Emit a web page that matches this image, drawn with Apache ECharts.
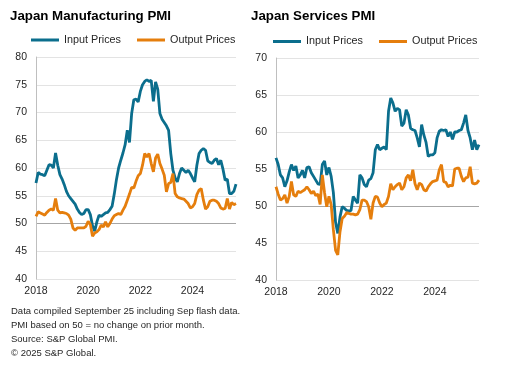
<!DOCTYPE html>
<html>
<head>
<meta charset="utf-8">
<script src="https://cdn.jsdelivr.net/npm/echarts@6/dist/echarts.min.js"></script>
<style>
html,body{margin:0;padding:0;background:#fff;}
#chart{width:519px;height:367px;}
</style>
</head>
<body>
<div id="chart"></div>
<script>
// Monthly data Jan 2018 - Sep 2025
const startYear = 2018, nMonths = 93;
const months = [];
for (let i = 0; i < nMonths; i++) {
  const y = startYear + Math.floor(i / 12), m = (i % 12) + 1;
  months.push(y + '-' + (m < 10 ? '0' + m : m));
}
const seriesNames = ['Input Prices', 'Output Prices'];
const titles = ['Japan Manufacturing PMI', 'Japan Services PMI'];

const mfgInput = [
  57.3, 59.2, 58.9, 58.8, 58.6, 59.6, 60.6, 60.5, 60.0, 62.7,
  60.5, 58.8, 58.0, 57.0, 55.8, 55.0, 54.5, 54.0, 53.5, 52.6,
  52.0, 51.6, 51.8, 52.5, 52.5, 51.6, 49.6, 48.6, 50.3, 51.5,
  51.3, 51.6, 51.9, 52.0, 52.5, 53.1, 55.3, 57.9, 60.0, 61.4,
  62.7, 64.2, 66.8, 64.6, 69.8, 72.3, 72.4, 71.9, 73.8, 75.0,
  75.6, 75.9, 75.6, 75.8, 72.0, 75.5, 74.2, 69.8, 68.8, 68.2,
  67.6, 66.8, 62.6, 59.6, 58.2, 57.5, 59.0, 60.0, 59.6, 59.2,
  59.6, 59.0, 58.2, 57.5, 60.5, 62.6, 63.2, 63.5, 63.2, 61.3,
  61.0, 60.8, 61.4, 61.7, 60.6, 61.4, 59.8, 57.8, 58.0, 55.4,
  55.4, 55.8, 57.1
];
const mfgOutput = [
  51.3, 52.1, 51.9, 51.7, 51.5, 52.0, 52.4, 52.6, 52.4, 54.5,
  52.4, 51.9, 52.0, 51.9, 51.8, 51.5, 50.8, 49.2, 48.8, 49.2,
  49.2, 49.2, 49.2, 49.5, 50.4, 49.8, 47.7, 48.3, 48.5, 48.9,
  49.7, 49.4, 50.3, 49.4, 50.0, 50.8, 51.4, 51.6, 51.8, 51.6,
  52.4, 53.1, 54.2, 55.3, 56.5, 56.4, 57.6, 58.6, 59.0, 60.5,
  62.6, 62.0, 62.6, 60.8, 59.3, 61.8, 62.5, 60.8, 59.8, 58.7,
  55.7, 57.2, 57.4, 59.0, 55.4, 54.8, 54.6, 54.5, 54.4, 54.0,
  53.6, 52.8, 53.0, 53.6, 55.2, 56.0, 56.3, 54.2, 52.6, 53.0,
  54.0, 54.2, 54.2, 54.0, 53.6, 52.8, 52.6, 52.7, 54.5, 52.6,
  53.8, 53.4, 53.6
];
const svcInput = [
  56.5, 55.6, 54.2, 53.8, 52.6, 53.4, 54.6, 55.6, 54.8, 55.4,
  53.8, 54.2, 54.8, 53.8, 55.2, 55.3, 54.5, 54.0, 53.5, 53.0,
  52.9, 55.6, 56.1, 54.2, 55.2, 54.0, 51.8, 47.8, 46.3, 48.5,
  49.9, 49.7, 49.4, 49.3, 49.4, 51.3, 50.8, 50.4, 54.2, 53.8,
  52.9, 52.6, 53.5, 53.7, 54.5, 57.6, 58.3, 57.6, 57.8, 58.0,
  57.6, 62.8, 64.6, 63.9, 62.8, 63.2, 63.0, 60.8, 61.2, 63.0,
  62.3, 60.5, 60.3, 60.2, 59.2, 58.0, 61.0, 59.6, 58.6, 56.7,
  56.9, 56.9, 57.2, 59.2, 60.1, 60.3, 60.2, 60.3, 59.4, 60.0,
  59.0, 60.0, 60.0, 60.2, 60.3, 61.2, 62.3, 60.2, 59.2, 57.6,
  58.9, 57.6, 58.3
];
const svcOutput = [
  52.6, 51.6, 50.8, 51.0, 51.5, 50.4, 51.3, 53.3, 51.5, 51.3,
  52.0, 51.8, 52.0, 52.2, 52.6, 52.2, 51.7, 52.0, 51.4, 51.6,
  50.2, 54.2, 51.8, 49.9, 51.3, 50.2, 46.8, 44.0, 43.4, 46.5,
  48.3, 48.6, 49.1, 49.0, 48.9, 48.9, 48.8, 48.9, 49.5, 50.8,
  50.8, 50.6, 49.9, 48.2, 50.4, 51.3, 51.2, 50.4, 49.9, 50.2,
  50.4, 51.3, 53.0, 52.2, 52.6, 52.9, 53.1, 52.2, 52.6, 53.8,
  54.2, 53.4, 54.9, 53.0, 52.2, 53.1, 52.9, 52.2, 52.0, 52.6,
  53.0, 53.3, 53.4, 53.5, 54.9, 55.6, 53.3, 53.2, 52.6, 52.8,
  52.7, 55.0, 55.1, 55.1, 54.0, 53.3, 53.8, 53.9, 55.3, 53.1,
  53.0, 53.1, 53.5
];
const footnotes = [
  'Data compiled September 25 including Sep flash data.',
  'PMI based on 50 = no change on prior month.',
  'Source: S&P Global PMI.',
  '\u00A9 2025 S&P Global.'
];

const BLUE = '#0b6e8d', ORANGE = '#e57e0d';
const FONT = 'Liberation Sans, Arial, sans-serif';
const GRID = '#e3e3e3', BASE = '#a6a6a6';

function yearLabel(idx, val) {
  return val.slice(5) === '01' && (+val.slice(0, 4)) % 2 === 0;
}
function splitColors(min, max, step) {
  const c = [];
  for (let v = min; v <= max; v += step) c.push(v === 50 ? BASE : GRID);
  return c;
}
function xAxis(gi) {
  return {
    type: 'category', gridIndex: gi, data: months, boundaryGap: false,
    axisLine: { show: false }, axisTick: { show: false }, splitLine: { show: false },
    axisLabel: { interval: yearLabel, formatter: v => v.slice(0, 4), color: '#262626',
      fontFamily: FONT, fontSize: 10.5, margin: 7 }
  };
}
function yAxis(gi, max) {
  return {
    type: 'value', gridIndex: gi, min: 40, max: max, interval: 5,
    axisLine: { show: true, lineStyle: { color: '#bfbfbf', width: 1 } },
    axisTick: { show: false },
    splitLine: { show: true, lineStyle: { color: splitColors(40, max, 5), width: 1 } },
    axisLabel: { color: '#262626', fontFamily: FONT, fontSize: 10.5, margin: 9 }
  };
}
function line(name, data, color, gi) {
  return {
    name: name, type: 'line', xAxisIndex: gi, yAxisIndex: gi, data: data,
    symbol: 'none', lineStyle: { color: color, width: 2.8 }, itemStyle: { color: color },
    animation: false
  };
}
function legend(left, top) {
  return {
    left: left, top: top, padding: 0, itemWidth: 28, itemHeight: 3, itemGap: 16,
    data: seriesNames, icon: 'rect',
    textStyle: { color: '#262626', fontFamily: FONT, fontSize: 10.8 },
    selectedMode: false
  };
}

const chart = echarts.init(document.getElementById('chart'));
chart.setOption({
  backgroundColor: '#fff',
  animation: false,
  title: [
    { text: titles[0], left: 10, top: 10, padding: 0,
      textStyle: { fontFamily: FONT, fontWeight: 'bold', fontSize: 13.3, color: '#000' } },
    { text: titles[1], left: 251, top: 10, padding: 0,
      textStyle: { fontFamily: FONT, fontWeight: 'bold', fontSize: 13.3, color: '#000' } }
  ],
  legend: [legend(31, 34.5), legend(273, 36)],
  grid: [
    { left: 36, top: 57, width: 200, height: 222, containLabel: false },
    { left: 276, top: 58, width: 203, height: 222, containLabel: false }
  ],
  xAxis: [xAxis(0), xAxis(1)],
  yAxis: [yAxis(0, 80), yAxis(1, 70)],
  series: [
    line(seriesNames[0], mfgInput, BLUE, 0),
    line(seriesNames[1], mfgOutput, ORANGE, 0),
    line(seriesNames[0], svcInput, BLUE, 1),
    line(seriesNames[1], svcOutput, ORANGE, 1)
  ],
  graphic: footnotes.map((t, i) => ({
    type: 'text', left: 11, top: 306 + i * 14,
    style: { text: t, fill: '#262626', font: '9.5px ' + FONT }
  }))
});
</script>
</body>
</html>
